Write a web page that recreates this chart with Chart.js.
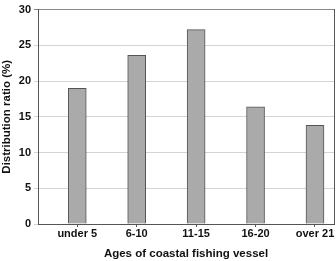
<!DOCTYPE html>
<html>
<head>
<meta charset="utf-8">
<script src="https://cdn.jsdelivr.net/npm/chart.js@4"></script>
<style>
  html, body { margin: 0; padding: 0; background: #fff; }
  #wrap { width: 336px; height: 261px; }
</style>
</head>
<body>
<div id="wrap"><canvas id="chart" width="336" height="261"></canvas></div>
<script>
const categories = ["under 5", "6-10", "11-15", "16-20", "over 21"];
const ratios = [19.0, 23.6, 27.2, 16.4, 13.8];
const yTicks = [0, 5, 10, 15, 20, 25, 30];

document.addEventListener("DOMContentLoaded", function () {
  const font = { family: "'Liberation Sans', Arial, sans-serif", size: 11, weight: "bold" };
  const titleFont = { family: "'Liberation Sans', Arial, sans-serif", size: 11.5, weight: "bold" };

  new Chart(document.getElementById("chart"), {
    type: "bar",
    data: {
      datasets: [
        {
          data: ratios.map((v, i) => ({ x: i, y: v })),
          backgroundColor: "#aaaaaa",
          borderColor: "#555555",
          borderWidth: 1,
          barThickness: 18,
        },
      ],
    },
    options: {
      responsive: false,
      animation: false,
      layout: { padding: { top: 4, right: 2, left: 0, bottom: 0 } },
      plugins: { legend: { display: false }, tooltip: { enabled: false } },
      scales: {
        x: {
          type: "linear",
          offset: false,
          min: -0.66,
          max: 4.32,
          afterBuildTicks: (axis) => {
            axis.ticks = categories.map((c, i) => ({ value: i }));
          },
          ticks: {
            color: "#111",
            font: font,
            padding: 0,
            maxRotation: 0,
            autoSkip: false,
            callback: (value) => categories[value],
          },
          grid: { drawOnChartArea: false, offset: false, tickLength: 3, color: "#555" },
          border: { color: "#555", width: 1 },
          title: {
            display: true,
            text: "Ages of coastal fishing vessel",
            color: "#111",
            font: titleFont,
            padding: { top: 7, bottom: 0 },
          },
        },
        y: {
          min: 0,
          max: 30,
          afterBuildTicks: (axis) => {
            axis.ticks = yTicks.map((v) => ({ value: v }));
          },
          ticks: { color: "#111", font: font, padding: 3 },
          grid: {
            tickLength: 4,
            color: (ctx) => (ctx.tick && ctx.tick.value === 30 ? "#888" : "#d4d4d4"),
          },
          border: { color: "#555", width: 1 },
          title: {
            display: true,
            text: "Distribution ratio (%)",
            color: "#111",
            font: titleFont,
            padding: { top: 0, bottom: 2 },
          },
        },
        y2: {
          position: "right",
          min: 0,
          max: 30,
          afterFit: (axis) => {
            axis.width = 0;
          },
          ticks: { display: false, padding: 0 },
          grid: { display: false, drawTicks: false, tickLength: 0 },
          border: { color: "#555", width: 1 },
        },
      },
    },
  });
});
</script>
</body>
</html>
